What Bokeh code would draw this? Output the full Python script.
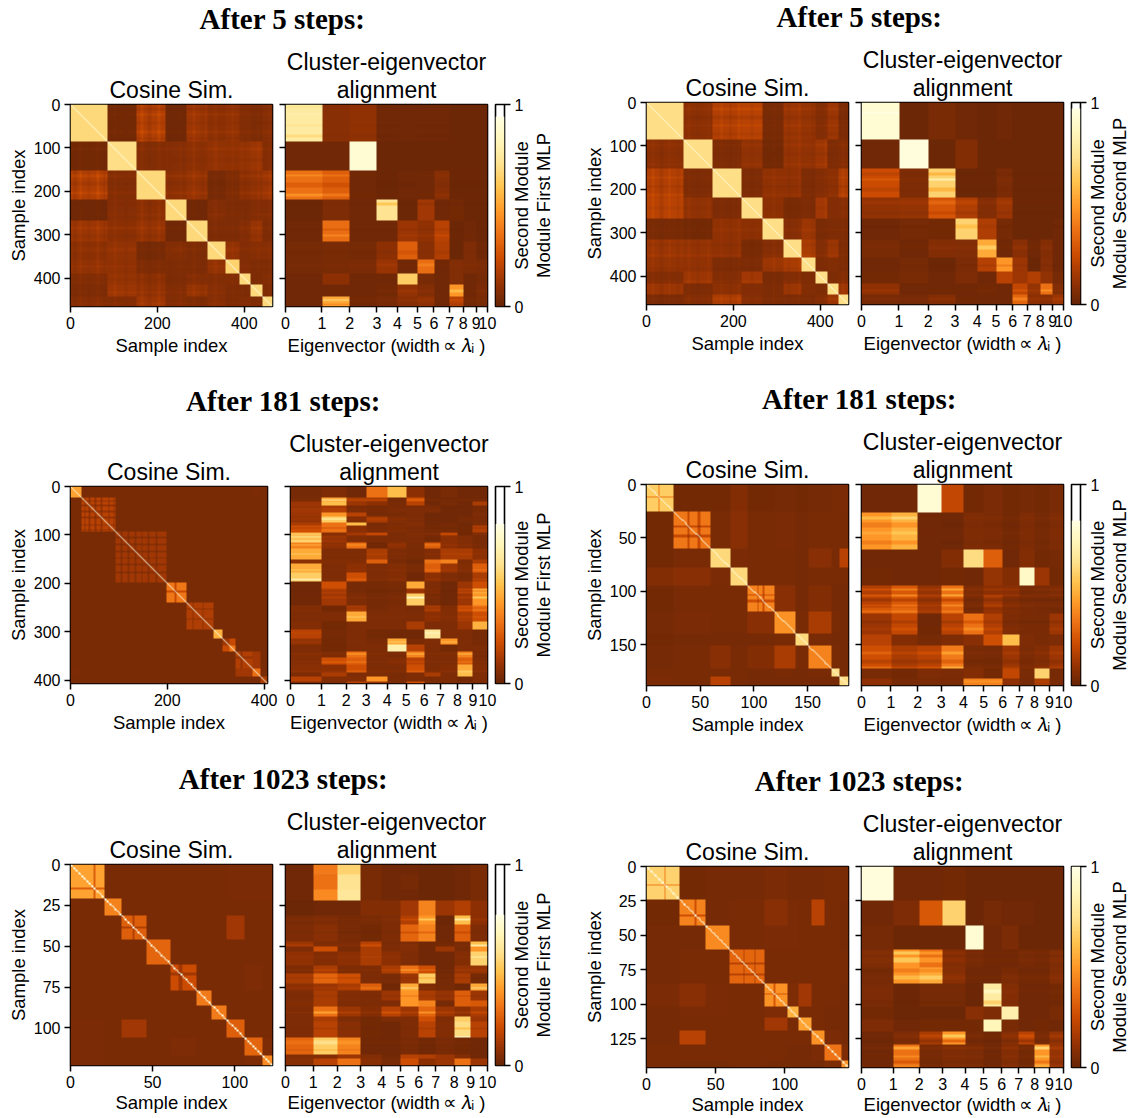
import numpy as np
from bokeh.embed import file_html
from bokeh.resources import INLINE
from bokeh.layouts import row, column
from bokeh.models import Label, Range1d, FixedTicker, LinearColorMapper, Title
from bokeh.palettes import YlOrBr9
from bokeh.plotting import figure

# ---- cluster edges, block values, eigenvalue widths ----
EDGES_A1 = [0, 85, 152, 218, 267, 316, 356, 390, 415, 442, 465]
DIAG_A1 = [.74, .76, .74, .74, .74, .74, .72, .74, .74, .74]
UPPER_A1 = [[.06, .27, .05, .20, .15, .17, .12, .10, .13],
            [.12, .13, .15, .17, .16, .18, .20, .12],
            [.15, .18, .07, .10, .15, .17, .20],
            [.05, .12, .10, .10, .12, .12],
            [.10, .10, .13, .18, .10],
            [.17, .12, .13, .13],
            [.12, .10, .10],
            [.10, .12],
            [.10]]
COS_STREAK_A1 = [(8, 14, .85), (20, 26, 1.2), (40, 46, .9), (60, 66, 1.2), (75, 80, .85), (100, 106, 1.15),
                 (125, 132, .9), (160, 167, 1.2), (178, 186, .85), (200, 208, 1.2), (225, 232, .9),
                 (250, 255, 1.15), (280, 287, 1.2), (300, 308, .9), (330, 338, 1.15), (370, 376, 1.15),
                 (400, 406, .9), (430, 436, 1.15), (455, 460, 1.15)]
LAMBDA_A1 = [102, 78, 76, 58, 56, 46, 44, 38, 36, 32]
ALIGN_A1 = [[.82, .14, .16, .04, .05, .04, .04, .03, .03, .03],
            [.05, .05, .95, .03, .03, .03, .03, .03, .03, .03],
            [.45, .40, .05, .03, .04, .05, .13, .03, .03, .03],
            [.03, .10, .04, .78, .03, .22, .04, .06, .03, .03],
            [.04, .44, .04, .04, .20, .16, .30, .03, .05, .03],
            [.07, .08, .07, .15, .40, .14, .28, .03, .10, .04],
            [.07, .08, .09, .19, .05, .44, .05, .11, .10, .09],
            [.05, .15, .04, .05, .70, .08, .04, .11, .05, .07],
            [.04, .05, .04, .06, .17, .12, .04, .55, .05, .09],
            [.05, .60, .06, .08, .14, .17, .04, .30, .06, .08]]
ALIGN_STREAK_A1 = [(4, 8, .93), (20, 24, 1.05), (45, 50, .95), (70, 76, .9), (160, 165, 1.2), (180, 190, .85),
                   (205, 212, 1.25), (226, 232, .85), (285, 290, .85), (300, 305, 1.2), (335, 345, .9),
                   (365, 372, 1.15), (425, 432, 1.2), (448, 452, 1.3), (458, 463, .85)]

EDGES_B1 = [0, 85, 151, 218, 268, 315, 356, 390, 417, 442, 465]
DIAG_B1 = [.76, .76, .76, .76, .76, .76, .76, .76, .76, .76]
UPPER_B1 = [[.15, .28, .30, .08, .20, .18, .12, .20, .09],
            [.10, .17, .06, .18, .17, .20, .10, .12],
            [.10, .16, .16, .10, .12, .15, .25],
            [.15, .08, .10, .22, .12, .13],
            [.13, .20, .08, .10, .10],
            [.25, .12, .20, .10],
            [.10, .12, .10],
            [.10, .12],
            [.20]]
COS_STREAK_B1 = [(12, 18, 1.15), (30, 38, .85), (50, 56, 1.15), (70, 76, .9), (95, 102, 1.15), (115, 122, .9),
                 (140, 146, 1.15), (170, 176, 1.15), (190, 196, .85), (210, 216, 1.15), (240, 246, .9),
                 (290, 296, 1.15), (325, 332, .9), (350, 354, 1.15), (380, 386, .9), (410, 415, 1.15),
                 (450, 456, 1.15)]
LAMBDA_B1 = [105, 82, 75, 62, 53, 47, 40, 37, 35, 30]
ALIGN_B1 = [[.95, .03, .08, .05, .03, .05, .03, .03, .03, .03],
            [.05, .97, .03, .12, .03, .03, .03, .03, .03, .03],
            [.34, .10, .72, .03, .03, .09, .03, .03, .03, .03],
            [.17, .18, .37, .27, .12, .20, .03, .03, .03, .03],
            [.04, .07, .06, .72, .27, .07, .03, .03, .03, .04],
            [.08, .05, .12, .11, .60, .05, .14, .05, .12, .04],
            [.05, .07, .03, .09, .29, .55, .20, .03, .13, .04],
            [.06, .08, .05, .10, .04, .30, .21, .28, .17, .07],
            [.16, .04, .05, .05, .06, .04, .32, .18, .45, .11],
            [.08, .07, .12, .05, .04, .04, .42, .15, .14, .20]]
ALIGN_STREAK_B1 = [(20, 26, 1.05), (160, 168, .85), (175, 180, 1.2), (195, 205, .85), (225, 235, 1.2),
                   (250, 258, .85), (280, 290, .9), (330, 338, 1.2), (372, 378, .85), (430, 434, 1.25),
                   (448, 455, 1.25)]

EDGES_A2 = [0, 22, 94, 199, 240, 296, 315, 341, 376, 393, 407]
DIAG_A2 = [.58, .30, .22, .47, .27, .62, .47, .28, .44, .27]
UPPER_A2 = [[.08, .08, .08, .08, .08, .08, .08, .09, .08],
            [.08, .08, .08, .08, .08, .08, .08, .08],
            [.08, .08, .08, .08, .08, .08, .08],
            [.08, .08, .08, .08, .08, .08],
            [.08, .08, .08, .08, .08],
            [.08, .08, .08, .08],
            [.08, .08, .08],
            [.22, .08],
            [.08]]
BANDS_A2 = [(28, 30), (38, 41), (50, 53), (62, 66), (78, 80), (88, 90), (104, 107), (117, 121),
            (133, 136), (146, 149), (159, 163), (176, 179), (214, 219), (252, 255), (272, 275),
            (315, 328), (352, 355)]
LAMBDA_A2 = [93, 74, 60, 63, 57, 54, 49, 51, 46, 44]
ROWS_A2 = [0, 22, 30, 39, 53, 62, 74, 81, 95, 102, 115, 129, 150, 160, 178, 197, 210, 222, 245,
           258, 278, 295, 314, 326, 340, 354, 368, 385, 392, 402, 407]
ALIGN_A2 = [[.07, .10, .05, .45, .65, .15, .04, .08, .05, .05],
            [.08, .60, .25, .25, .06, .35, .06, .06, .06, .06],
            [.20, .65, .20, .15, .08, .30, .05, .08, .05, .25],
            [.22, .28, .10, .08, .10, .10, .10, .05, .05, .08],
            [.20, .55, .30, .07, .08, .10, .05, .05, .05, .10],
            [.18, .70, .12, .25, .12, .10, .05, .05, .07, .08],
            [.25, .45, .65, .08, .10, .12, .05, .07, .04, .10],
            [.35, .45, .15, .10, .12, .10, .07, .07, .06, .28],
            [.60, .12, .20, .30, .08, .10, .10, .30, .05, .10],
            [.72, .20, .12, .10, .10, .10, .07, .15, .12, .08],
            [.50, .15, .45, .05, .15, .08, .40, .15, .12, .08],
            [.60, .10, .10, .25, .10, .08, .12, .25, .25, .15],
            [.15, .12, .12, .40, .08, .05, .45, .50, .10, .25],
            [.60, .10, .15, .10, .12, .08, .40, .20, .12, .40],
            [.70, .10, .35, .10, .12, .05, .15, .10, .08, .25],
            [.04, .35, .07, .07, .08, .60, .10, .04, .20, .35],
            [.05, .28, .08, .06, .07, .22, .12, .04, .30, .60],
            [.05, .22, .10, .07, .08, .70, .08, .04, .20, .55],
            [.12, .06, .25, .08, .10, .08, .25, .12, .35, .45],
            [.10, .10, .60, .10, .10, .10, .15, .12, .25, .35],
            [.12, .06, .10, .10, .10, .25, .10, .10, .20, .62],
            [.30, .07, .10, .06, .05, .04, .80, .10, .10, .07],
            [.18, .06, .10, .08, .60, .08, .10, .55, .10, .07],
            [.10, .06, .10, .10, .85, .30, .10, .06, .10, .10],
            [.12, .10, .45, .10, .08, .50, .10, .10, .50, .08],
            [.12, .35, .40, .10, .12, .30, .10, .10, .40, .10],
            [.14, .15, .35, .10, .10, .35, .10, .12, .60, .12],
            [.10, .25, .10, .10, .08, .10, .25, .10, .65, .10],
            [.30, .12, .12, .55, .08, .10, .08, .10, .06, .10],
            [.12, .10, .30, .20, .10, .35, .10, .10, .10, .10]]
ALIGN_STREAK_A2 = [(26, 28, 1.4), (42, 44, .7), (66, 68, 1.3), (85, 87, .75), (97, 99, 1.3), (108, 110, .8),
                   (120, 122, 1.3), (138, 141, 1.2), (172, 174, 1.2), (190, 194, 1.2), (214, 216, .75),
                   (228, 231, 1.3), (250, 252, .8), (268, 271, 1.2), (302, 304, 1.15), (320, 322, 1.2),
                   (345, 347, 1.4), (362, 364, 1.3), (381, 384, 1.2)]

EDGES_B2 = [0, 25, 60, 78, 94, 119, 139, 151, 172, 180, 188]
DIAG_B2 = [.70, .47, .74, .74, .50, .54, .74, .50, .76, .76]
UPPER_B2 = [[.06, .06, .12, .06, .07, .06, .07, .08, .09],
            [.08, .14, .08, .09, .07, .08, .08, .08],
            [.09, .08, .08, .07, .14, .08, .30],
            [.08, .08, .07, .08, .08, .08],
            [.14, .07, .12, .07, .07],
            [.08, .25, .08, .07],
            [.08, .07, .07],
            [.08, .07],
            [.07]]
BANDS_B2 = [(11, 12), (38, 40), (47, 50), (103, 104), (108, 110)]
LAMBDA_B2 = [88, 80, 71, 66, 61, 57, 50, 45, 45, 42]
ROWS_B2 = [0, 26, 61, 78, 94, 104, 115, 121, 140, 151, 172, 181, 188]
ALIGN_B2 = [[.05, .05, .95, .32, .06, .09, .06, .07, .06, .08],
            [.55, .62, .05, .04, .10, .09, .06, .10, .07, .10],
            [.05, .04, .05, .12, .75, .40, .05, .12, .06, .07],
            [.06, .05, .05, .06, .05, .18, .12, .92, .20, .06],
            [.28, .38, .18, .45, .10, .15, .14, .07, .08, .10],
            [.30, .38, .20, .42, .08, .22, .12, .09, .08, .08],
            [.38, .42, .22, .42, .06, .16, .10, .08, .07, .06],
            [.20, .32, .05, .30, .45, .28, .10, .08, .08, .20],
            [.30, .12, .07, .10, .14, .35, .65, .10, .08, .10],
            [.35, .25, .30, .48, .08, .07, .20, .09, .12, .20],
            [.08, .06, .10, .09, .12, .06, .32, .08, .72, .07],
            [.15, .07, .08, .08, .50, .50, .15, .07, .25, .08]]
ALIGN_STREAK_B2 = [(30, 33, 1.2), (36, 40, .85), (44, 47, 1.1), (52, 56, .85), (97, 99, 1.4), (103, 105, 1.5),
                   (107, 109, .7), (112, 114, 1.3), (118, 120, 1.2), (127, 130, .8), (134, 137, 1.2),
                   (156, 159, 1.25), (164, 167, .8), (170, 172, 1.35), (183, 185, 1.1)]

EDGES_A3 = [0, 21, 31, 46, 61, 77, 86, 95, 106, 117, 123]
DIAG_A3 = [.58, .50, .40, .42, .34, .48, .48, .40, .42, .52]
UPPER_A3 = [[.08, .08, .08, .08, .08, .08, .09, .09, .09],
            [.08, .08, .08, .08, .08, .08, .08, .08],
            [.08, .08, .08, .08, .22, .08, .08],
            [.08, .08, .08, .08, .08, .08],
            [.08, .08, .08, .10, .08],
            [.08, .08, .08, .08],
            [.08, .08, .08],
            [.08, .08],
            [.10]]
BANDS_A3 = [(14, 15), (38, 39), (66, 68)]
LAMBDA_A3 = [83, 72, 70, 63, 57, 54, 51, 55, 50, 50]
ROWS_A3 = [0, 6, 15, 22, 31, 37, 47, 50, 53, 62, 67, 73, 77, 83, 87, 93, 96, 105, 106, 116, 119, 123]
ALIGN_A3 = [[.04, .48, .72, .08, .05, .05, .03, .03, .04, .08],
            [.04, .45, .78, .08, .05, .07, .03, .03, .04, .08],
            [.04, .52, .80, .08, .05, .05, .03, .03, .04, .08],
            [.03, .05, .05, .12, .12, .22, .50, .20, .28, .15],
            [.08, .10, .07, .08, .10, .28, .55, .03, .65, .15],
            [.10, .14, .08, .06, .10, .42, .50, .05, .40, .10],
            [.20, .10, .10, .30, .08, .10, .05, .06, .08, .65],
            [.10, .35, .08, .25, .10, .12, .05, .20, .08, .55],
            [.16, .12, .15, .25, .15, .10, .05, .05, .12, .72],
            [.10, .25, .10, .10, .25, .45, .35, .05, .18, .18],
            [.25, .42, .35, .10, .08, .20, .70, .07, .25, .07],
            [.15, .20, .25, .40, .05, .60, .10, .07, .05, .60],
            [.10, .25, .12, .10, .20, .55, .25, .18, .40, .20],
            [.12, .25, .10, .10, .10, .55, .50, .07, .40, .38],
            [.10, .45, .20, .12, .30, .20, .42, .20, .15, .25],
            [.10, .25, .10, .06, .10, .10, .35, .10, .70, .20],
            [.10, .30, .14, .06, .05, .10, .30, .12, .75, .30],
            [.10, .30, .14, .06, .05, .10, .30, .12, .97, .30],
            [.42, .70, .50, .05, .05, .08, .05, .08, .06, .04],
            [.12, .12, .20, .12, .06, .30, .28, .20, .12, .05],
            [.14, .30, .45, .14, .08, .35, .15, .20, .45, .20]]
ALIGN_STREAK_A3 = [(33, 34, 1.3), (41, 42, .8), (49, 50, 1.3), (56, 57, 1.2), (64, 65, 1.4), (69, 70, .8),
                   (75, 76, 1.3), (80, 81, .8), (90, 91, 1.4), (100, 101, .85), (108, 110, 1.1), (113, 114, .85)]

EDGES_B3 = [0, 24, 43, 60, 85, 102, 110, 119, 129, 141, 146]
DIAG_B3 = [.72, .50, .52, .42, .54, .62, .58, .54, .46, .54]
UPPER_B3 = [[.06, .07, .07, .09, .07, .07, .07, .08, .08],
            [.07, .08, .14, .09, .08, .30, .08, .07],
            [.08, .09, .09, .08, .08, .08, .07],
            [.08, .08, .08, .08, .08, .08],
            [.10, .22, .08, .08, .07],
            [.08, .08, .07, .07],
            [.08, .07, .07],
            [.09, .07],
            [.10]]
BANDS_B3 = [(13, 14), (35, 36), (70, 71), (78, 79), (92, 93)]
LAMBDA_B3 = [95, 78, 70, 67, 56, 54, 51, 48, 44, 42]
ROWS_B3 = [0, 25, 43, 60, 73, 85, 102, 111, 120, 129, 146]
ALIGN_B3 = [[.97, .04, .04, .06, .03, .03, .03, .03, .03, .03],
            [.04, .10, .38, .72, .03, .07, .04, .04, .03, .03],
            [.07, .03, .03, .03, .95, .05, .09, .03, .03, .03],
            [.10, .55, .45, .12, .07, .05, .05, .07, .06, .10],
            [.07, .55, .60, .14, .05, .05, .09, .06, .06, .12],
            [.09, .03, .07, .07, .03, .82, .12, .05, .05, .06],
            [.06, .03, .03, .03, .14, .10, .85, .05, .05, .08],
            [.10, .05, .06, .06, .06, .88, .08, .05, .06, .05],
            [.04, .10, .25, .55, .07, .05, .13, .30, .08, .18],
            [.05, .45, .07, .10, .09, .05, .12, .06, .55, .18]]
ALIGN_STREAK_B3 = [(62, 64, 1.3), (66, 70, 1.3), (74, 77, .85), (79, 82, 1.2), (89, 92, 1.1), (97, 100, .85),
                   (122, 124, 1.3), (126, 128, .7), (131, 133, 1.4), (137, 139, 1.2), (141, 143, .8),
                   (144, 146, 1.1)]

TITLES = ["After 5 steps:", "After 181 steps:", "After 1023 steps:"]
CBAR_TOP = {"A1": .94, "B1": .97, "A2": .81, "B2": .82, "A3": .75, "B3": 1.0}
ALIGN_TICKS = list(range(11))


# ---- drawing ----
def make_palette():
    rgb = np.array([[int(c[i:i + 2], 16) for i in (1, 3, 5)] for c in YlOrBr9], float)
    pos = np.linspace(0, 1, len(rgb))
    ts = np.linspace(0, 1, 256)
    chan = [np.interp(ts, pos, rgb[:, k]).round().astype(int) for k in range(3)]
    return ["#%02x%02x%02x" % (chan[0][i], chan[1][i], chan[2][i]) for i in range(256)]


MAPPER = LinearColorMapper(palette=make_palette(), low=0, high=1)
SANS = "Liberation Sans"
TICK = "16px"


def tone(a):
    return np.interp(a, [0, .1, .3, .6, 1], [0, .06, .2, .55, 1])


def cos_matrix(edges, diag, upper, bands=(), streaks=()):
    n = edges[-1]
    k = len(diag)
    blocks = np.zeros((k, k))
    for i in range(k):
        blocks[i, i] = diag[i]
        for j, v in enumerate(upper[i] if i < k - 1 else []):
            blocks[i, i + 1 + j] = blocks[i + 1 + j, i] = v
    idx = np.searchsorted(edges, np.arange(n), side="right") - 1
    m = tone(blocks)[np.ix_(idx, idx)].copy()
    same = idx[:, None] == idx[None, :]
    for a, b in bands:
        mask = np.zeros(n, bool)
        mask[a:b] = True
        m[(mask[:, None]) & same] *= .6
        m[(mask[None, :]) & same] *= .6
    for a, b, f in streaks:
        mask = np.zeros(n, bool)
        mask[a:b] = True
        m[(mask[:, None]) & ~same] *= f
        m[(mask[None, :]) & ~same] *= f
    np.fill_diagonal(m, 1)
    return m


def align_matrix(row_edges, lam, values, streaks=()):
    n = row_edges[-1]
    rows = np.searchsorted(row_edges, np.arange(n), side="right") - 1
    cum = np.cumsum(lam)
    w = 808
    pos = (np.arange(w) + .5) / w * cum[-1]
    cols = np.searchsorted(cum, pos, side="right")
    m = tone(np.array(values))[np.ix_(rows, cols)].copy()
    for a, b, f in streaks:
        m[a:b] *= f
    return np.clip(m, 0, 1)


def base(w, h, xr, yr, left, right, top, bottom, **kw):
    p = figure(width=left + w + right, height=top + h + bottom, x_range=xr, y_range=yr,
               min_border_left=left, min_border_right=right, min_border_top=top,
               min_border_bottom=bottom, toolbar_location=None, output_backend="svg",
               title=None, **kw)
    p.grid.visible = False
    p.outline_line_color = "black"
    p.outline_line_width = 1.6
    p.background_fill_color = None
    p.border_fill_color = None
    return p


def style_axis(ax, ticks, label=None, standoff=3):
    ax.ticker = FixedTicker(ticks=[int(t) for t in ticks])
    ax.axis_line_color = None
    ax.major_tick_line_color = "black"
    ax.major_tick_line_width = 1.5
    ax.major_tick_out = 6
    ax.major_tick_in = 0
    ax.minor_tick_line_color = None
    ax.major_label_text_font = SANS
    ax.major_label_text_font_size = TICK
    ax.major_label_text_color = "black"
    ax.major_label_standoff = 4
    if label:
        ax.axis_label = label
        ax.axis_label_standoff = standoff
        ax.axis_label_text_font = SANS
        ax.axis_label_text_font_size = "18.5px"
        ax.axis_label_text_font_style = "normal"
        ax.axis_label_text_color = "black"


def add_title(p, s, standoff):
    p.add_layout(Title(text=s, align="center", text_font=SANS, text_font_size="23px",
                       text_font_style="normal", text_color="black", standoff=standoff), "above")


def blank(width, height):
    s = figure(width=width, height=height, x_axis_location=None, y_axis_location=None,
               toolbar_location=None, output_backend="svg", min_border=0, title=None,
               x_range=Range1d(0, 1), y_range=Range1d(0, 1))
    s.grid.visible = False
    s.outline_line_color = None
    s.background_fill_color = None
    s.border_fill_color = None
    return s


def group(title, title_x, title_cy, page_y, panel_top, col_x, key, edges, diag, upper, bands, cos_streaks,
          lam, rows, values, align_streaks, xticks, yticks, frame, bottom, second):
    cx0, cx1, ax0, ax1, fy0, fy1 = frame
    right_col = col_x > 100
    col_w = 557 if right_col else 572
    x_standoff = 3 if bottom > 60 else 1
    strip = blank(col_w, panel_top - page_y)
    strip.add_layout(Label(x=title_x - col_x, y=panel_top - title_cy + 1, x_units="screen", y_units="screen",
                           text=title, text_font="Liberation Serif", text_font_size="29px",
                           text_font_style="bold", text_align="center", text_baseline="middle",
                           text_color="black"))

    top = fy0 - panel_top
    n = edges[-1]
    h = fy1 - fy0

    # Cosine similarity
    c_w = cx1 - cx0
    cos_end = 854 if right_col else 278
    p = base(c_w, h, Range1d(0, n), Range1d(n, 0), cx0 - col_x, cos_end - cx1, top, bottom)
    p.image(image=[cos_matrix(edges, diag, upper, bands, cos_streaks)], x=0, y=0, dw=n, dh=n, color_mapper=MAPPER)
    style_axis(p.xaxis[0], xticks, "Sample index", x_standoff)
    style_axis(p.yaxis[0], yticks, "Sample index", 2)
    add_title(p, "Cosine Sim.", 4)

    # Alignment
    a_w = ax1 - ax0
    cum = [0] + [int(c) for c in np.cumsum(lam)]
    q = base(a_w, h, Range1d(0, cum[-1]), Range1d(n, 0), ax0 - cos_end, 18, top, bottom)
    q.image(image=[align_matrix(rows, lam, values, align_streaks)], x=0, y=0, dw=cum[-1], dh=n, color_mapper=MAPPER)
    style_axis(q.xaxis[0], cum, "Eigenvector (width\u2009\u221d\u2009\U0001D706\u1d62 )", x_standoff)
    q.xaxis[0].major_label_overrides = {c: str(t) for c, t in zip(cum, ALIGN_TICKS)}
    style_axis(q.yaxis[0], yticks)
    q.yaxis[0].major_label_overrides = {int(t): "" for t in yticks}
    add_title(q, "alignment", 3)
    add_title(q, "Cluster-eigenvector", -3)

    # Colour bar
    cb_w = 11
    cb_left = 4
    r = base(cb_w, h, Range1d(0, 1), Range1d(0, 1), cb_left, 20, top, bottom,
             y_axis_location="right", x_axis_location=None)
    r.margin = (0, 0, 0, -14)
    ramp = np.linspace(0, 1, 256)[:, None]
    r.image(image=[ramp], x=0, y=0, dw=1, dh=CBAR_TOP[key], color_mapper=MAPPER)
    style_axis(r.yaxis[0], [0, 1])

    # Colour bar's two-line caption, drawn beside it on a see-through strip
    side_x = ax1 + 23
    side_end = 1129 if right_col else 572
    side = blank(side_end - side_x, top + h + bottom)
    side.margin = (0, 0, 0, -16)
    for x, s in ((11, "Second Module"), (33, second)):
        side.add_layout(Label(x=x, y=h / 2, x_units="screen", y_units="screen", text=s,
                              angle=np.pi / 2, text_font=SANS, text_font_size="18.5px",
                              text_align="center", text_baseline="middle", text_color="black"))

    return column(strip, row(p, q, r, side, spacing=0), spacing=0)


LEFT = 0
RIGHT = 572
TICKS_400 = [0, 100, 200, 300, 400]
groups_left = [
    group(TITLES[0], 282, 19, 0, 42, LEFT, "A1", EDGES_A1, DIAG_A1, UPPER_A1, [], COS_STREAK_A1, LAMBDA_A1,
          EDGES_A1, ALIGN_A1, ALIGN_STREAK_A1, [0, 200, 400], TICKS_400, (70, 272, 285, 487, 104, 306), 69,
          "Module First MLP"),
    group(TITLES[1], 283, 401, 375, 424, LEFT, "A2", EDGES_A2, DIAG_A2, UPPER_A2, BANDS_A2, [], LAMBDA_A2,
          ROWS_A2, ALIGN_A2, ALIGN_STREAK_A2, [0, 200, 400], TICKS_400, (70, 267, 290, 487, 486, 683), 67,
          "Module First MLP"),
    group(TITLES[2], 283, 779, 750, 802, LEFT, "A3", EDGES_A3, DIAG_A3, UPPER_A3, BANDS_A3, [], LAMBDA_A3,
          ROWS_A3, ALIGN_A3, ALIGN_STREAK_A3, [0, 50, 100], [0, 25, 50, 75, 100], (70, 272, 285, 487, 864, 1065), 51,
          "Module First MLP"),
]
groups_right = [
    group(TITLES[0], 859, 17, 0, 40, RIGHT, "B1", EDGES_B1, DIAG_B1, UPPER_B1, [], COS_STREAK_B1, LAMBDA_B1,
          EDGES_B1, ALIGN_B1, ALIGN_STREAK_B1, [0, 200, 400], TICKS_400, (646, 848, 861, 1063, 102, 304), 68,
          "Module Second MLP"),
    group(TITLES[1], 859, 399, 372, 422, RIGHT, "B2", EDGES_B2, DIAG_B2, UPPER_B2, BANDS_B2, [], LAMBDA_B2,
          ROWS_B2, ALIGN_B2, ALIGN_STREAK_B2, [0, 50, 100, 150], [0, 50, 100, 150], (646, 848, 861, 1063, 484, 685), 65,
          "Module Second MLP"),
    group(TITLES[2], 859, 781, 750, 804, RIGHT, "B3", EDGES_B3, DIAG_B3, UPPER_B3, BANDS_B3, [], LAMBDA_B3,
          ROWS_B3, ALIGN_B3, ALIGN_STREAK_B3, [0, 50, 100], [0, 25, 50, 75, 100, 125], (646, 848, 861, 1063, 866, 1067), 51,
          "Module Second MLP"),
]

page = row(column(*groups_left, spacing=0), column(*groups_right, spacing=0), spacing=0)
open("out.html", "w").write(file_html(page, INLINE))
